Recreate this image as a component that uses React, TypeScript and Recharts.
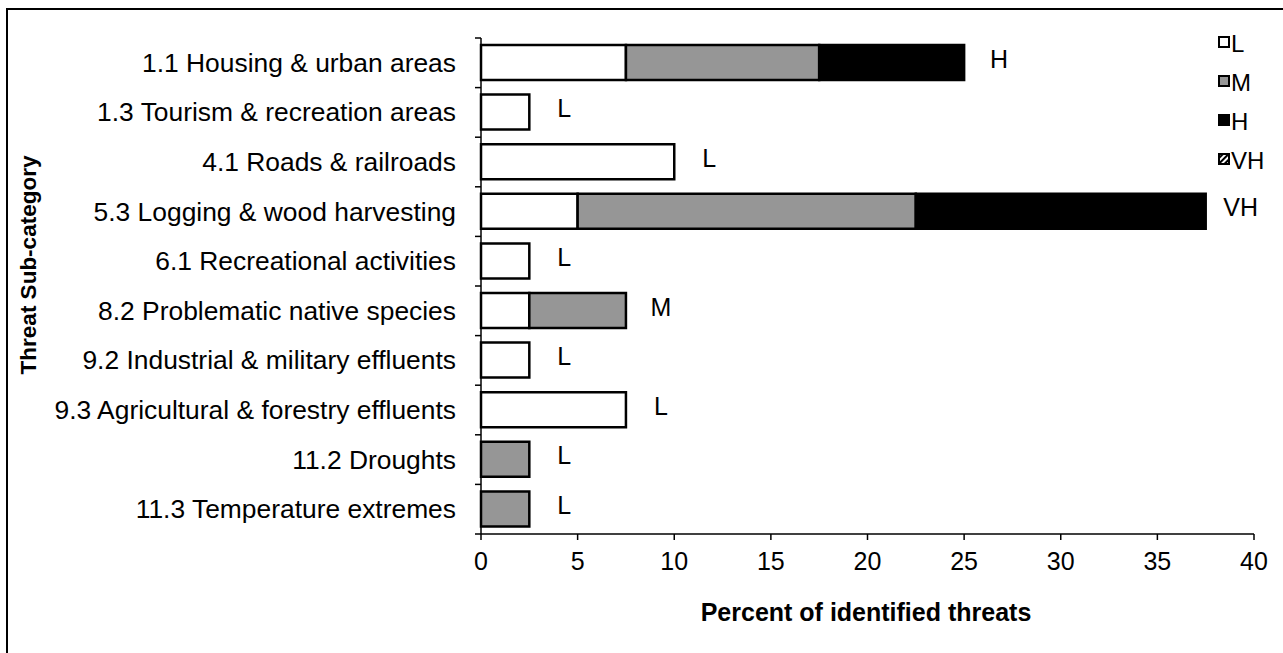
import React from "react";
import { BarChart, Bar, XAxis, YAxis, LabelList } from "recharts";

const categories = [
  "1.1 Housing & urban areas",
  "1.3 Tourism & recreation areas",
  "4.1 Roads & railroads",
  "5.3 Logging & wood harvesting",
  "6.1 Recreational activities",
  "8.2 Problematic native species",
  "9.2 Industrial & military effluents",
  "9.3 Agricultural & forestry effluents",
  "11.2 Droughts",
  "11.3 Temperature extremes",
];
const lowValues = [7.5, 2.5, 10, 5, 2.5, 2.5, 2.5, 7.5, 0, 0];
const mediumValues = [10, 0, 0, 17.5, 0, 5, 0, 0, 2.5, 2.5];
const highValues = [7.5, 0, 0, 15, 0, 0, 0, 0, 0, 0];
const veryHighValues = [0, 0, 0, 0, 0, 0, 0, 0, 0, 0];
const ratings = ["H", "L", "L", "VH", "L", "M", "L", "L", "L", "L"];
const xTicks = [0, 5, 10, 15, 20, 25, 30, 35, 40];

const series = [lowValues, mediumValues, highValues, veryHighValues];

// the last non-empty segment of a row carries the rating tag
const tagFor = (s: number, i: number) =>
  series[s][i] > 0 && series.slice(s + 1).every((arr) => !(arr[i] > 0)) ? ratings[i] : "";

const data = categories.map((name, i) => ({
  name,
  L: lowValues[i],
  M: mediumValues[i],
  H: highValues[i],
  VH: veryHighValues[i],
  tagL: tagFor(0, i),
  tagM: tagFor(1, i),
  tagH: tagFor(2, i),
  tagVH: tagFor(3, i),
}));

const FONT = "'Liberation Sans', Arial, sans-serif";
const BAND = 49.6;
const GRAY = "#969696";

const YTick = (props: any) => {
  const { x, y, payload, index } = props;
  const ax = x + 25;
  return (
    <g>
      <line x1={ax - 6} x2={ax} y1={y - BAND / 2} y2={y - BAND / 2} stroke="#000" strokeWidth={1.5} />
      {index === categories.length - 1 && (
        <line x1={ax - 6} x2={ax} y1={y + BAND / 2} y2={y + BAND / 2} stroke="#000" strokeWidth={1.5} />
      )}
      <text x={x} y={y} textAnchor="end" dominantBaseline="central" fontSize={26.4} fill="#000" fontFamily={FONT}>
        {payload.value}
      </text>
    </g>
  );
};

const RatingLabel = (props: any) => {
  const { x, y, width, height, value } = props;
  if (!value) return null;
  return (
    <text x={x + width + 35} y={y + height / 2 - 4} textAnchor="middle" dominantBaseline="central" fontSize={25} fill="#000" fontFamily={FONT}>
      {value}
    </text>
  );
};

const legendItems = [
  { key: "L", fill: "#fff" },
  { key: "M", fill: GRAY },
  { key: "H", fill: "#000" },
  { key: "VH", fill: "url(#hatch)" },
];

const LegendBox = () => (
  <svg width={70} height={170} style={{ position: "absolute", left: 1212, top: 24 }}>
    <defs>
      <pattern id="hatch" width={4} height={4} patternUnits="userSpaceOnUse" patternTransform="rotate(45)">
        <rect width={4} height={4} fill="#fff" />
        <rect width={2} height={4} fill="#000" />
      </pattern>
    </defs>
    {legendItems.map((it, i) => (
      <g key={it.key} transform={`translate(0, ${i * 39})`}>
        <rect x={7} y={13} width={10} height={10} fill={it.fill} stroke="#000" strokeWidth={2} />
        <text x={19} y={19} dominantBaseline="central" fontSize={24} fill="#000" fontFamily={FONT}>
          {it.key}
        </text>
      </g>
    ))}
  </svg>
);

const barProps = { stackId: "a", stroke: "#000", strokeWidth: 2.5, isAnimationActive: false };

export default function App() {
  return (
    <div style={{ position: "absolute", left: 0, top: 0, width: 1283, height: 653, background: "#fff", overflow: "hidden" }}>
      <div style={{ position: "absolute", left: 6, top: 8, width: 1283, height: 653, borderLeft: "2px solid #000", borderTop: "2px solid #000" }} />
      <BarChart
        width={1283}
        height={653}
        data={data}
        layout="vertical"
        margin={{ top: 38, right: 29, bottom: 89, left: 0 }}
        barSize={35}
        style={{ position: "absolute", left: 0, top: 0 }}
      >
        <XAxis
          type="number"
          domain={[0, 40]}
          ticks={xTicks}
          interval={0}
          height={30}
          axisLine={{ stroke: "#000", strokeWidth: 1.5 }}
          tickLine={{ stroke: "#000", strokeWidth: 1.5 }}
          tickSize={6}
          tickMargin={12}
          tick={{ fill: "#000", fontSize: 25, fontFamily: FONT }}
          label={{
            content: () => (
              <text x={866} y={612} textAnchor="middle" dominantBaseline="central" fontSize={25} fontWeight="bold" fill="#000" fontFamily={FONT}>
                Percent of identified threats
              </text>
            ),
          }}
        />
        <YAxis
          type="category"
          dataKey="name"
          width={481}
          interval={0}
          tickLine={false}
          tickSize={0}
          tickMargin={25}
          axisLine={{ stroke: "#000", strokeWidth: 1.5 }}
          tick={<YTick />}
          label={{
            content: () => (
              <text transform="translate(28,265) rotate(-90)" textAnchor="middle" dominantBaseline="central" fontSize={22.5} fontWeight="bold" fill="#000" fontFamily={FONT}>
                Threat Sub-category
              </text>
            ),
          }}
        />
        <Bar dataKey="L" fill="#fff" {...barProps}>
          <LabelList dataKey="tagL" content={<RatingLabel />} />
        </Bar>
        <Bar dataKey="M" fill={GRAY} {...barProps}>
          <LabelList dataKey="tagM" content={<RatingLabel />} />
        </Bar>
        <Bar dataKey="H" fill="#000" {...barProps}>
          <LabelList dataKey="tagH" content={<RatingLabel />} />
        </Bar>
        <Bar dataKey="VH" fill="url(#hatch)" {...barProps}>
          <LabelList dataKey="tagVH" content={<RatingLabel />} />
        </Bar>
      </BarChart>
      <LegendBox />
    </div>
  );
}
